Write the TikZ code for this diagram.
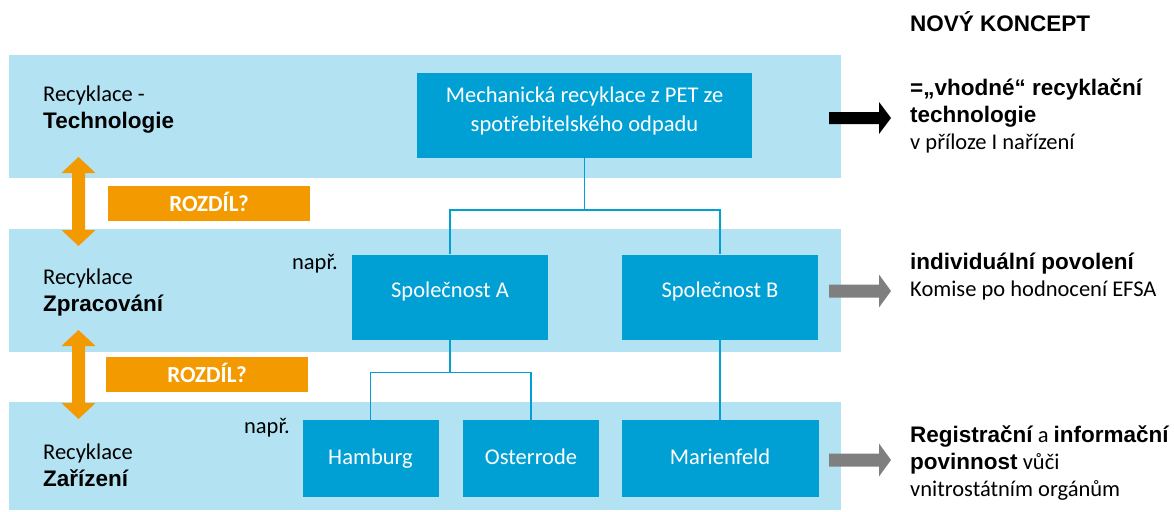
\documentclass[tikz,border=0pt]{standalone}
\usepackage{fontspec}
\setmainfont{Carlito}
\newfontfamily\arialfont{Liberation Sans}
\usetikzlibrary{positioning}

\definecolor{bandblue}{HTML}{B3E2F2}
\definecolor{boxblue}{HTML}{00A0D4}
\definecolor{rozdilorange}{HTML}{F39A00}
\definecolor{arrowgray}{HTML}{7F7F7F}
\newcommand{\hl}[1]{{\arialfont\bfseries #1}}

\tikzset{
  firma/.style={fill=boxblue, text=white, align=center, inner sep=0pt, minimum height=85pt, text height=10pt, text depth=10pt},
  zavod/.style={fill=boxblue, text=white, inner sep=0pt, minimum height=77pt, text height=16pt, text depth=5pt},
  rozdil/.style={fill=rozdilorange, text=white, font=\fontsize{23}{27}\selectfont\bfseries, inner sep=0pt, minimum width=202pt, minimum height=35pt, text height=15pt, text depth=0pt},
  popis/.style={anchor=west, align=left, inner sep=0pt},
  spoj/.style={draw=boxblue, line width=1.5pt},
}

\begin{document}
\begin{tikzpicture}[x=1pt, y=-1pt, font=\fontsize{22.5}{27}\selectfont]
\useasboundingbox (0,0) rectangle (1174,511);

% pasy
\fill[bandblue] (9,55) rectangle (841,178);
\fill[bandblue] (9,229) rectangle (841,352);
\fill[bandblue] (9,402) rectangle (841,510);

\node[popis] (tech) at (43,110) {Recyklace -\\\hl{Technologie}};
\node[popis] (zprac) at (43,293) {Recyklace\\\hl{Zpracování}};
\node[popis] (zariz) at (43,465) {Recyklace\\\hl{Zařízení}};

\foreach \t/\b in {157/246, 330/419}
  \fill[rozdilorange] (78.5,\t) -- (95.5,\t+16) -- (85,\t+16) -- (85,\b-16) -- (95.5,\b-16) -- (78.5,\b)
    -- (61.5,\b-16) -- (72,\b-16) -- (72,\t+16) -- (61.5,\t+16) -- cycle;
\node[rozdil] (rozdil1) at (209,203.5) {ROZDÍL?};
\node[rozdil] (rozdil2) at (207,374.5) {ROZDÍL?};

\node[firma, minimum width=335pt, font=\fontsize{22.5}{29}\selectfont, text height=31pt, text depth=0pt] (mech) at (584.5,115.5)
  {Mechanická recyklace z PET ze\\spotřebitelského odpadu};
\node[firma, minimum width=196pt] (spolA) at (450,297) {Společnost A};
\node[firma, minimum width=196pt] (spolB) at (720,297) {Společnost B};
\node[zavod, minimum width=136pt] (hamb) at (370.5,458.5) {Hamburg};
\node[zavod, minimum width=136pt] (oster) at (531,458.5) {Osterrode};
\node[zavod, minimum width=197pt] (marien) at (720,458.5) {Marienfeld};

\node[anchor=east, inner sep=0pt] (napr1) at (338,264) {např.};
\node[anchor=east, inner sep=0pt] (napr2) at (290,428) {např.};

\draw[spoj] (mech.south) -- ++(0,52) -| (spolA.north);
\draw[spoj] (mech.south) ++(0,52) -| (spolB.north);
\draw[spoj] (spolA.south) -- ++(0,33) -| (hamb.north);
\draw[spoj] (spolA.south) ++(0,33) -| (oster.north);
\draw[spoj] (spolB.south) -- (marien.north);

% novy koncept
\node[popis] (koncept) at (910,22) {\hl{NOVÝ KONCEPT}};
\fill (829,112) -- (879,112) -- (879,102) -- (891,118) -- (879,134) -- (879,124) -- (829,124) -- cycle;
\foreach \y in {291,460}
  \fill[arrowgray] (829,\y-6.5) -- (879,\y-6.5) -- (879,\y-16.5) -- (891,\y) -- (879,\y+16.5) -- (879,\y+6.5) -- (829,\y+6.5) -- cycle;

\node[popis] (vhodne) at (910,116) {\hl{=„vhodné“ recyklační}\\\hl{technologie}\\v příloze I nařízení};
\node[popis] (povoleni) at (910,277) {\hl{individuální povolení}\\Komise po hodnocení EFSA};
\node[popis] (registr) at (910,463) {\hl{Registrační} a \hl{informační}\\\hl{povinnost} vůči\\vnitrostátním orgánům};
\end{tikzpicture}
\end{document}
